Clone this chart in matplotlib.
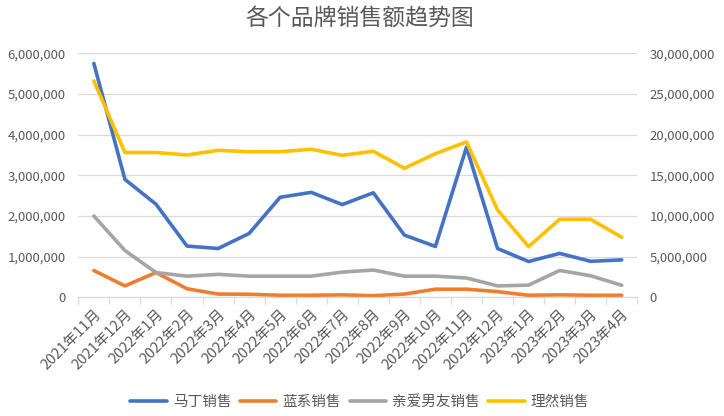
import matplotlib
matplotlib.use("Agg")
import matplotlib.pyplot as plt
from matplotlib.ticker import FuncFormatter, MultipleLocator
import numpy as np

plt.rcParams['font.family'] = ['Noto Sans CJK SC', 'DejaVu Sans']

months = ["2021年11月", "2021年12月", "2022年1月", "2022年2月", "2022年3月", "2022年4月",
          "2022年5月", "2022年6月", "2022年7月", "2022年8月", "2022年9月", "2022年10月",
          "2022年11月", "2022年12月", "2023年1月", "2023年2月", "2023年3月", "2023年4月"]

mading = [5750000, 2900000, 2290000, 1260000, 1200000, 1570000, 2460000, 2580000, 2280000,
          2570000, 1530000, 1250000, 3690000, 1200000, 880000, 1080000, 885000, 920000]
lanxi = [660000, 280000, 610000, 210000, 80000, 75000, 50000, 50000, 60000,
         40000, 80000, 200000, 200000, 140000, 50000, 60000, 50000, 50000]
qinai = [2000000, 1150000, 610000, 520000, 565000, 520000, 520000, 520000, 620000,
         670000, 520000, 520000, 475000, 280000, 300000, 660000, 530000, 295000]
liran = [26600000, 17800000, 17800000, 17500000, 18070000, 17900000, 17900000, 18200000, 17460000,
         17950000, 15860000, 17660000, 19100000, 10740000, 6230000, 9590000, 9590000, 7380000]

names = ["马丁销售", "蓝系销售", "亲爱男友销售", "理然销售"]
colors = ["#4472C4", "#ED7D31", "#A5A5A5", "#FFC000"]

txt = "#595959"
grid = "#D9D9D9"

fig = plt.figure(figsize=(7.24, 4.16), dpi=100)
ax = fig.add_axes([0.1082, 0.2853, 0.7720, 0.5866])
ax2 = ax.twinx()

x = np.arange(len(months))
lw = 2.6
l1, = ax.plot(x, mading, color=colors[0], lw=lw, solid_capstyle='round', label=names[0])
l2, = ax.plot(x, lanxi, color=colors[1], lw=lw, solid_capstyle='round', label=names[1])
l3, = ax.plot(x, qinai, color=colors[2], lw=lw, solid_capstyle='round', label=names[2])
l4, = ax2.plot(x, liran, color=colors[3], lw=lw, solid_capstyle='round', label=names[3])

ax.set_ylim(0, 6000000)
ax2.set_ylim(0, 30000000)
ax.set_xlim(-0.5, len(months) - 0.5)

fmt = FuncFormatter(lambda v, p: f"{int(v):,}")
ax.yaxis.set_major_locator(MultipleLocator(1000000))
ax2.yaxis.set_major_locator(MultipleLocator(5000000))
ax.yaxis.set_major_formatter(fmt)
ax2.yaxis.set_major_formatter(fmt)

ax.grid(axis='y', color=grid, lw=0.9)
ax.set_axisbelow(True)

for a in (ax, ax2):
    for s in a.spines.values():
        s.set_visible(False)
ax.spines['bottom'].set_visible(True)
ax.spines['bottom'].set_color(grid)
ax.spines['bottom'].set_linewidth(0.9)

ax.tick_params(axis='y', length=0, pad=9, labelsize=9.5, labelcolor=txt)
ax2.tick_params(axis='y', length=0, pad=9, labelsize=9.5, labelcolor=txt)

ax.set_xticks(x)
ax.set_xticklabels(months, rotation=45, ha='right', rotation_mode='anchor',
                   fontsize=10.5, color=txt)
ax.tick_params(axis='x', which='major', length=0, pad=7)
ax.set_xticks(np.arange(-0.5, len(months), 1.0), minor=True)
ax.tick_params(axis='x', which='minor', length=5, color=grid, width=0.9)

fig.suptitle("各个品牌销售额趋势图", x=0.4975, y=0.985, fontsize=16.5, color=txt, va='top')

leg = fig.legend(handles=[l1, l2, l3, l4], labels=names, loc='center',
                 bbox_to_anchor=(0.497, 0.034), ncol=4, frameon=False,
                 fontsize=10.5, handlelength=2.5, columnspacing=0.6, handletextpad=0.4)
for t in leg.get_texts():
    t.set_color(txt)

fig.savefig("out.png", dpi=100)
